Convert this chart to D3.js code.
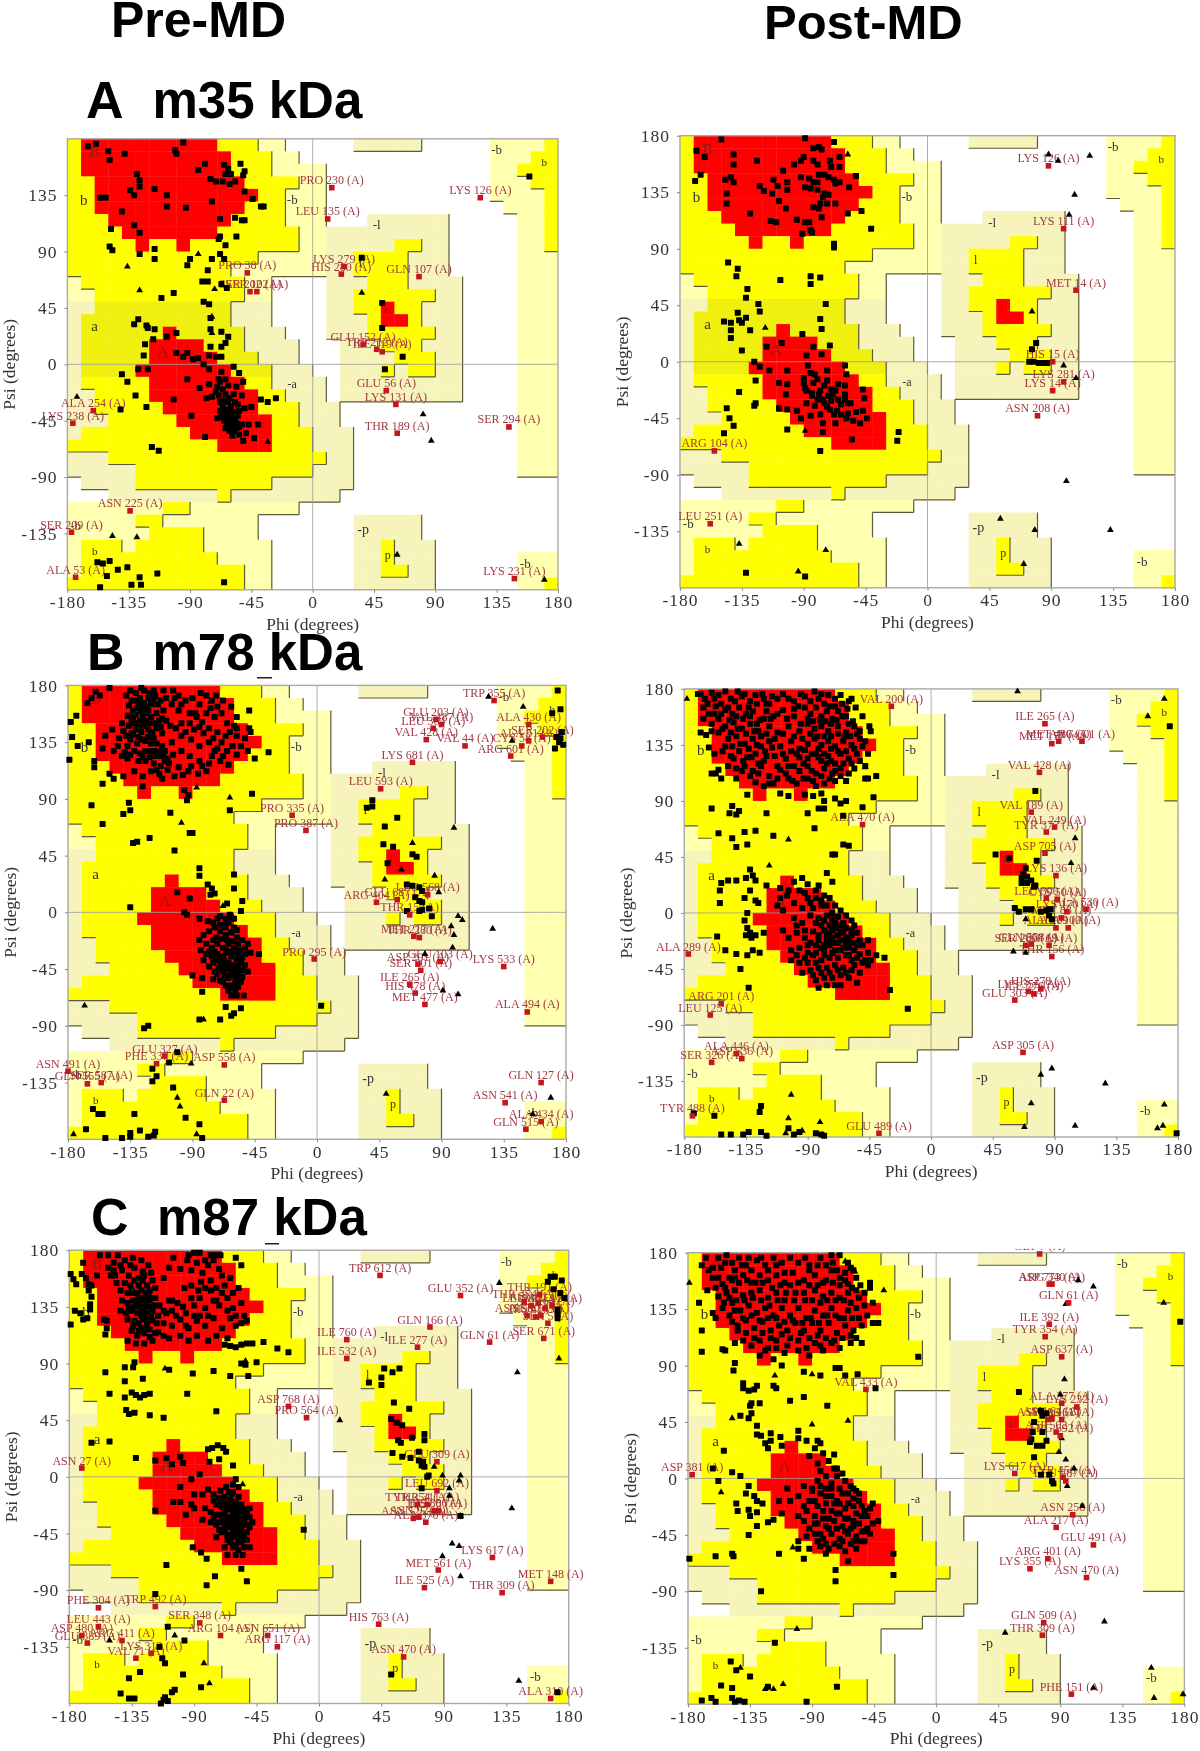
<!DOCTYPE html>
<html><head><meta charset="utf-8">
<script src="https://cdn.jsdelivr.net/npm/d3@7/dist/d3.min.js"></script>
<style>html,body{margin:0;padding:0;background:#fff}svg{display:block;filter:blur(0.45px)}</style>
</head><body><svg id="c" width="1200" height="1751"></svg>
<script>
const phiTicks=[-180,-135,-90,-45,0,45,90,135,180];
const psiTicks=[-135,-90,-45,0,45,90,135,180];
const columnTitles=["Pre-MD","Post-MD"];
const rowLetters=["A","B","C"];
const rowNames=["m35 kDa","m78 kDa","m87 kDa"];

/* Ramachandran regions: one entry per 10-degree psi band from +180 down, spans are phi bin ranges */
const generousBins=[[[0,16],[21,26],[31,36]],[[0,17],[31,36]],[[0,19],[31,36]],[[0,19],[31,36]],[[0,19],[31,36]],[[0,19],[32,36]],[[0,19],[22,28],[33,36]],[[0,28],[33,36]],[[0,28],[33,36]],[[0,28],[33,36]],[[0,28],[33,36]],[[0,15],[19,29],[33,36]],[[0,15],[19,29],[33,36]],[[0,15],[19,29],[33,36]],[[0,15],[19,29],[33,36]],[[0,16],[19,29],[33,36]],[[0,17],[20,29],[33,36]],[[0,17],[20,29],[33,36]],[[0,18],[20,29],[33,36]],[[0,19],[20,29],[33,36]],[[0,19],[20,29],[33,36]],[[0,20],[33,36]],[[0,20],[33,36]],[[0,21],[33,36]],[[0,21],[33,36]],[[0,21],[33,36]],[[0,21],[33,36]],[[1,21]],[[3,20]],[[0,17]],[[0,14],[21,26]],[[0,14],[21,26]],[[0,15],[21,27]],[[0,15],[21,27],[33,36]],[[0,15],[21,27],[33,36]],[[0,15],[21,27],[33,36]]];
const allowedBins=[[[0,14],[35,36]],[[0,15],[34,36]],[[0,15],[33,36]],[[0,17],[34,36]],[[0,16],[35,36]],[[0,16],[35,36]],[[0,16],[35,36]],[[0,17],[35,36]],[[0,17],[24,26],[35,36]],[[0,14],[21,25]],[[0,12],[21,25]],[[1,13],[22,25]],[[2,13],[21,27]],[[2,12],[21,26]],[[1,12],[22,26]],[[1,13],[22,27]],[[1,13],[23,26]],[[1,14],[24,27]],[[1,15],[23,24],[25,27]],[[1,15]],[[2,16]],[[2,17]],[[3,17]],[[1,18]],[[0,18]],[[3,19]],[[5,18]],[[5,15]],[[11,12]],[[7,9]],[[5,7]],[[6,10]],[[1,4],[5,10],[23,24]],[[1,11],[23,24]],[[1,13],[23,25]],[[0,13],[35,36]]];
const coreBins=[[[1,11]],[[1,12]],[[1,12]],[[2,13]],[[2,14]],[[2,13]],[[3,12]],[[4,11]],[[5,6],[8,9]],[],[],[],[],[[23,24]],[[23,25]],[[7,8]],[[6,10]],[[6,11]],[[5,12]],[[6,13]],[[6,14]],[[7,14]],[[8,15]],[[9,15]],[[11,15]],[],[],[],[],[],[],[],[],[],[],[]];
const regionLetters=[["B",-160,168,15],["b",-168,130,15],["A",-110,8,17],["a",-160,29,15],["-b",-15,130,13],["-a",-15,-17,12],["-l",47,110,13],["l",35,80,12],["L",55,42,11],["-b",135,170,13],["b",170,160,11],["-p",37,-133,14],["p",55,-153,12],["-b",156,-160,13],["-b",-174,-130,13],["b",-160,-150,11]];

/* residue points: flat phi,psi pairs */
const squaresAPre=[-165,174,-159,176,-150,170,-149,163,-138,168,-95,177,-101,171,-100,168,-79,160,-84,155,-65,159,-62,156,-64,152,-60,152,-53,160,-50,154,-51,151,-75,148,-71,146,-66,146,-61,144,-57,146,-129,152,-127,147,-134,139,-127,142,-116,140,-131,135,-107,135,-156,133,-152,133,-140,122,-107,126,-93,125,-68,116,-52,115,-57,117,-50,115,-44,132,-38,126,-36,126,-50,138,-74,130,-148,108,-131,111,-127,105,-69,100,-68,102,-64,95,-56,102,-149,94,-147,91,-127,88,-116,92,-116,84,-90,84,-92,79,-74,84,-68,88,-65,84,-77,75,-81,66,-77,66,-67,64,-63,61,-102,57,-111,53,-80,50,-76,48,-75,37,-131,32,-128,36,-122,31,-121,29,-116,28,-117,20,-123,16,-124,7,-75,28,-67,26,-62,22,-64,17,-67,14,-75,14,-107,22,-100,25,-92,9,-88,4,-84,5,-76,7,-71,6,-67,6,-100,9,-95,6,-58,-2,-54,-7,-51,-14,-67,-6,-69,-12,-76,-4,-80,0,-140,-8,-136,-14,-130,-25,-141,-36,-122,-34,-128,-4,-121,-4,-102,-28,-92,-12,-83,-19,-78,-27,-71,-22,-64,-24,-58,-24,-52,-25,-68,-30,-62,-30,-55,-32,-50,-35,-45,-34,-27,-27,-33,-30,-38,-28,-68,-37,-64,-40,-61,-43,-57,-45,-52,-48,-65,-45,-61,-48,-58,-53,-54,-56,-51,-61,-43,-59,-40,-48,-79,-58,-89,-41,-118,-66,-113,-69,-70,-18,-66,-20,-62,-17,-60,-34,-66,-34,-63,-36,-58,-38,-55,-41,-60,-45,-56,-51,-70,-43,-74,-26,-76,-16,-68,-14,-64,-12,-56,-18,-69,-25,-65,-29,-61,-27,-66,-39,-62,-38,-59,-41,-63,-43,-67,-42,-63,-47,-59,-49,-56,-47,-64,-51,-61,-53,-59,-57,-54,-50,-49,-55,-47,-48,-57,-30,-54,-37,53,-4,66,6,-158,-158,-154,-159,-149,-157,-143,-164,-136,-162,-151,-169,-114,-167,-133,-176,-126,-176,-127,-170,-156,-178,-65,-174,159,150,36,85,51,49,51,29];
const trianglesAPre=[-136,78,-127,59,-84,88,-72,60,-74,38,-74,25,36,57,-173,-26,81,-40,87,-61,-147,-137,-129,-138,62,-152,170,-172,-33,-62];
const squaresAPost=[-169,144,-165,149,-168,168,-162,163,-150,177,-141,165,-141,157,-124,160,-147,145,-143,147,-141,143,-146,134,-146,126,-129,118,-122,140,-119,136,-113,134,-112,145,-109,140,-102,143,-102,137,-108,128,-103,122,-114,112,-110,111,-95,113,-89,111,-86,111,-91,102,-85,105,-84,103,-89,178,-68,175,-83,170,-79,171,-77,169,-90,163,-92,160,-97,157,-105,152,-83,160,-80,157,-71,160,-64,163,-70,155,-64,155,-92,147,-86,146,-83,143,-79,149,-75,149,-72,147,-68,145,-64,143,-67,142,-89,139,-85,138,-80,143,-80,137,-75,134,-72,133,-76,131,-78,126,-83,123,-79,122,-73,126,-67,126,-57,139,-52,148,-58,118,-48,120,-41,106,-77,115,-68,94,-68,91,-145,79,-138,74,-139,68,-107,65,-85,68,-85,62,-78,67,-131,58,-132,51,-123,46,-122,40,-74,46,-138,39,-132,35,-148,32,-143,31,-143,25,-143,19,-137,33,-135,31,-129,25,-78,34,-77,26,-91,22,-71,13,-117,12,-106,15,-135,9,-88,5,-83,12,-77,6,-126,0,-125,-15,-137,-24,-146,-37,-144,-45,-141,-51,-148,-57,-125,-33,-126,-35,-102,-54,-78,-71,-21,-56,-22,-63,-55,-62,-76,-56,-122,-4,-115,-7,-102,-7,-87,-3,-82,-10,-73,-7,-60,-3,-59,-10,-108,-17,-102,-18,-103,-26,-90,-13,-89,-21,-84,-25,-80,-14,-75,-19,-70,-22,-65,-18,-60,-19,-47,-22,-46,-29,-47,-39,-88,-33,-82,-35,-76,-30,-70,-31,-63,-34,-56,-33,-108,-37,-102,-38,-95,-39,-92,-45,-85,-43,-78,-42,-68,-42,-63,-42,-67,-49,-59,-45,-54,-47,-49,-49,-44,-45,-76,-49,-90,-17,-88,-23,-69,-26,-79,-26,-60,-26,-58,-33,-66,-39,-85,-9,-83,-17,-78,-23,-73,-15,-72,-27,-67,-23,-65,-30,-60,-30,-73,-36,-80,-30,-75,-33,-71,-38,-58,-41,-52,-40,-84,-27,-132,-168,-89,-171,79,15,76,10,77,0,74,0,85,-1,87,-1,81,-1];
const trianglesAPost=[-58,165,-118,27,-89,-55,-137,-145,-74,-150,-94,-167,88,165,95,160,118,164,107,133,103,117,76,40,99,-3,108,-13,101,-95,53,-125,78,-134,133,-134,70,-161];
const squaresBPre=[-166,166,-163,170,-157,172,-160,175,-150,178,-135,176,-127,178,-125,176,-111,176,-104,176,-100,172,-128,170,-125,166,-122,170,-130,162,-122,160,-119,165,-116,158,-133,155,-128,152,-124,152,-121,150,-136,148,-140,144,-131,145,-127,143,-122,145,-117,150,-111,160,-105,165,-100,160,-95,168,-90,170,-85,165,-80,172,-76,168,-72,163,-88,158,-80,158,-74,155,-69,158,-65,150,-60,148,-92,150,-85,147,-78,146,-72,143,-66,140,-58,140,-52,138,-48,143,-98,150,-106,148,-112,142,-118,138,-124,136,-130,134,-137,132,-143,138,-148,145,-153,140,-155,130,-147,128,-141,124,-135,125,-128,126,-120,128,-112,132,-105,135,-98,140,-91,137,-85,132,-78,135,-72,130,-65,128,-58,125,-50,128,-124,120,-118,118,-115,124,-110,120,-104,125,-98,128,-92,124,-85,120,-78,118,-70,120,-64,117,-120,112,-114,110,-108,113,-100,115,-93,112,-86,110,-80,112,-126,108,-132,112,-140,108,-147,106,-150,110,-155,102,-126,100,-96,97,-93,93,-130,168,-126,162,-124,158,-120,155,-118,170,-115,165,-132,150,-129,147,-125,148,-134,142,-120,142,-116,134,-120,134,-124,128,-118,124,-113,116,-110,128,-108,122,-178,151,-174,156,-177,139,-173,132,-179,121,-165,135,-161,120,-161,115,-49,160,-49,146,-45,122,-35,127,-47,94,-163,85,-155,70,-136,87,-135,81,-140,78,-106,79,-63,81,-94,89,-133,55,-130,56,-121,59,-103,49,-92,63,-90,63,-85,35,-85,29,-60,30,-60,19,-79,22,-76,19,-74,15,-77,14,-101,16,-92,11,-135,4,-65,7,-54,9,-55,1,-96,0,-94,-2,-85,-5,-63,-2,-60,-5,-75,-8,-72,-5,-68,-10,-64,-8,-60,-12,-70,-15,-66,-18,-62,-16,-58,-20,-54,-22,-50,-25,-73,-20,-78,-15,-82,-18,-85,-22,-80,-25,-76,-28,-72,-25,-68,-28,-64,-25,-60,-28,-56,-30,-52,-33,-48,-32,-42,-33,-84,-30,-80,-33,-76,-35,-72,-33,-68,-35,-65,-32,-62,-35,-58,-37,-55,-40,-52,-42,-82,-38,-75,-40,-70,-40,-67,-38,-64,-40,-61,-42,-58,-44,-65,-45,-62,-47,-60,-50,-57,-48,-54,-46,-68,-46,-71,-44,-74,-47,-78,-43,-90,-50,-83,-52,-75,-53,-70,-54,-64,-52,-59,-55,-55,-55,-66,-58,-60,-60,-62,-66,-58,-66,-53,-66,-83,-63,-66,-75,-55,-76,-60,-80,-62,-82,-70,-85,-85,-85,3,-74,-125,-92,-122,-90,-119,-124,-116,-130,-119,-134,-107,-119,-101,-111,-104,-139,-162,-156,-158,-160,-155,-160,-132,-160,-95,-163,-85,-168,-167,-172,-153,-179,-141,-179,-135,-175,-135,-178,-128,-173,-122,-178,-117,-174,-118,-177,-83,-179,40,89,36,83,40,84,58,75,49,68,48,54,55,52,51,39,69,46,72,44,65,22,69,21,74,20,76,17,71,12,74,9,76,8,65,1,74,1,76,2,81,3,83,-3,174,176,176,161,170,158,177,143,172,130,175,135,178,133,173,139,176,138];
const denseBPre=[-138,172,-134,168,-131,174,-129,165,-127,160,-133,160,-136,164,-121,174,-118,176,-117,172,-113,168,-109,170,-137,156,-134,152,-131,157,-126,156,-123,163,-120,167,-114,152,-112,154,-109,152,-141,150,-138,140,-135,137,-133,141,-129,139,-126,137,-122,139,-119,143,-116,146,-113,147,-144,132,-139,127,-137,122,-132,128,-129,120,-126,123,-121,123,-117,128,-113,127,-111,124,-107,118,-116,113,-112,106,-103,108,-97,109,-91,116,-83,116,-76,124,-74,128,-68,124,-61,132,-82,142,-75,138,-69,135,-63,143,-58,146,-55,132,-89,145,-95,143,-102,146,-87,155,-83,151,-77,162,-92,158,-98,165,-103,170,-84,174,-73,172,-68,168,-62,163,-58,155,-79,-7,-70,-3,-66,-5,-62,-4,-74,-12,-70,-10,-66,-12,-58,-14,-75,-22,-69,-21,-65,-22,-61,-23,-57,-25,-52,-28,-78,-31,-74,-31,-70,-36,-66,-30,-63,-31,-60,-33,-57,-34,-54,-36,-73,-38,-69,-42,-66,-42,-63,-44,-60,-47,-57,-42,-72,-49,-67,-50,-63,-50,-58,-51,-54,-51,-50,-47,-68,-55,-62,-58,-57,-59,-64,-62,-59,-63];
const trianglesBPre=[124,171,149,163,141,136,-77,167,-87,99,-63,91,-98,71,-68,5,99,67,69,55,85,29,88,16,61,34,49,26,102,-3,105,-6,97,-11,99,-18,127,-13,98,-28,78,-33,91,-62,102,-65,-168,-74,-82,-85,-91,-120,-101,-147,-99,-154,50,-144,169,-147,156,-160,-176,-176,-87,-176];
const squaresBPost=[-170,176,-165,172,-160,177,-155,175,-150,178,-146,172,-141,178,-136,176,-132,170,-128,175,-122,172,-118,168,-112,172,-100,170,-95,176,-85,178,-80,176,-75,175,-70,172,-65,168,-60,170,-55,165,-166,165,-162,160,-157,166,-150,163,-145,160,-140,165,-135,160,-130,162,-125,155,-120,162,-115,158,-108,163,-100,158,-92,165,-88,160,-84,165,-80,158,-76,162,-72,156,-68,162,-62,158,-166,156,-160,152,-155,156,-150,150,-144,153,-138,148,-132,152,-126,146,-118,150,-112,145,-104,150,-96,146,-90,152,-85,148,-80,150,-75,146,-68,150,-62,145,-56,150,-50,158,-45,150,-44,146,-168,145,-164,143,-162,133,-158,128,-155,145,-148,140,-142,142,-136,136,-130,140,-124,134,-118,138,-110,134,-102,138,-96,132,-90,136,-85,140,-80,135,-75,138,-70,134,-64,138,-58,135,-52,140,-48,138,-152,130,-146,126,-140,130,-134,125,-128,128,-122,122,-114,126,-106,124,-98,128,-90,124,-84,128,-80,122,-75,126,-70,120,-66,128,-60,124,-54,128,-148,118,-142,116,-136,118,-130,114,-124,118,-118,110,-110,115,-104,118,-96,114,-90,118,-84,112,-78,116,-72,112,-66,116,-60,112,-157,112,-160,112,-155,115,-153,108,-142,108,-128,105,-122,102,-115,104,-104,108,-98,104,-90,108,-84,102,-78,104,-70,106,-62,106,-48,108,-46,108,-40,110,-134,95,-110,96,-104,94,-92,95,-86,94,-80,96,-78,90,-70,92,-62,90,-66,88,-42,93,-50,85,-160,84,-145,86,-147,80,-142,79,-140,82,-120,80,-90,80,-82,84,-64,78,-85,68,-78,84,-155,64,-145,60,-136,65,-142,53,-134,55,-115,62,-128,66,-72,47,-70,47,-60,54,-64,55,-132,35,-135,28,-130,30,-148,26,-153,24,-154,18,-142,26,-128,26,-120,22,-154,8,-132,18,-136,12,-128,10,-126,8,-100,25,-90,23,-94,28,-82,22,-76,32,-72,25,-134,0,-136,-6,-134,-12,-132,-16,-135,-18,-131,-20,-128,-18,-122,-16,-156,-19,-150,-30,-142,-33,-134,-34,-130,-30,-125,-32,-139,-45,-133,-60,-110,20,-105,14,-100,8,-92,16,-84,18,-88,8,-80,10,-74,12,-70,6,-108,2,-112,6,-100,-4,-94,-8,-88,-2,-82,-4,-76,-2,-72,-5,-68,-3,-64,-8,-56,-10,-108,-14,-104,-20,-98,-16,-92,-20,-86,-15,-80,-10,-82,-18,-78,-14,-74,-16,-70,-12,-66,-15,-76,-22,-72,-20,-68,-24,-62,-20,-58,-18,-52,-22,-46,-22,-102,-30,-96,-28,-90,-26,-84,-26,-78,-30,-74,-26,-70,-30,-64,-28,-60,-28,-56,-30,-52,-33,-46,-32,-40,-34,-34,-36,-102,-38,-96,-40,-92,-36,-86,-34,-80,-38,-74,-36,-68,-36,-62,-34,-58,-38,-50,-40,-46,-42,-94,-48,-88,-46,-82,-44,-76,-44,-70,-42,-64,-44,-58,-46,-52,-48,-84,-54,-78,-52,-72,-52,-66,-50,-60,-52,-54,-56,-82,-60,-66,-58,-30,-62,-17,-77,-173,-161,-158,-163,-153,-178,-146,-178,-137,-178,-133,-176,-124,-176,-125,-160,-124,-155,-120,-179,-104,-173,-100,-178,-96,-176,-84,-177,-80,-178,-78,-179,47,47,57,44,77,42,69,36,67,31,70,29,66,28,73,26,76,22,64,1,69,3,73,3,84,2,87,3,86,-2,88,-5,76,98,174,150,179,-177];
const denseBPost=[-168,176,-163,168,-158,172,-153,168,-148,165,-143,170,-138,174,-133,165,-127,168,-123,176,-120,168,-116,174,-108,176,-104,172,-97,166,-92,174,-88,170,-82,172,-78,168,-74,166,-70,166,-66,175,-61,164,-58,172,-158,160,-153,160,-147,155,-142,158,-137,156,-132,158,-127,152,-122,156,-117,156,-112,160,-105,156,-100,164,-95,152,-90,156,-86,154,-81,155,-77,154,-73,152,-69,155,-65,158,-60,152,-57,154,-52,146,-160,146,-152,148,-146,145,-141,148,-135,144,-129,146,-124,142,-120,144,-114,140,-108,144,-100,142,-94,140,-88,144,-83,142,-78,142,-73,142,-68,144,-63,142,-59,142,-54,144,-50,134,-46,128,-150,134,-145,134,-139,136,-133,132,-127,135,-121,130,-116,133,-108,128,-102,130,-96,125,-92,131,-87,128,-82,132,-78,128,-73,132,-68,130,-62,130,-56,132,-52,122,-48,118,-144,124,-137,122,-131,125,-126,120,-120,126,-112,118,-106,112,-100,118,-93,120,-87,114,-82,125,-76,120,-73,122,-70,114,-64,120,-58,120,-56,116,-138,114,-132,110,-126,112,-118,104,-112,108,-101,106,-93,108,-86,106,-80,110,-74,108,-66,110,-110,12,-104,18,-96,18,-90,12,-84,12,-78,14,-94,4,-86,4,-80,6,-76,6,-72,0,-66,2,-62,-2,-58,-6,-98,-10,-92,-14,-84,-8,-78,-6,-74,-10,-70,-8,-66,-10,-62,-12,-58,-14,-54,-16,-88,-24,-82,-22,-80,-28,-76,-18,-72,-14,-68,-18,-64,-16,-60,-22,-56,-24,-50,-26,-98,-34,-90,-32,-84,-32,-78,-26,-74,-22,-70,-24,-66,-22,-62,-24,-58,-24,-54,-26,-48,-38,-90,-40,-84,-40,-78,-34,-72,-32,-66,-30,-60,-34,-54,-36,-44,-38,-86,-50,-80,-48,-74,-48,-68,-46,-62,-48,-56,-42,-76,-58,-70,-58,66,24,70,24,75,21,61,4,80,1];
const trianglesBPost=[-178,172,63,178,170,172,158,158,-48,117,-104,59,-118,38,105,60,102,40,85,3,73,2,62,3,69,-5,60,-31,69,-32,68,-172,165,-173,169,-171,170,-154,73,-153,105,-171,80,-130,88,-125,127,-137,-102,-146,-104,-165,-81,-168,-106,-177,-94,-175];
const squaresCPre=[-179,161,-177,157,-175,153,-171,161,-166,153,-166,148,-179,121,-176,132,-172,130,-170,125,-167,126,-165,137,-165,133,-164,143,-155,125,-153,124,-153,118,-154,113,-170,170,-168,158,-164,152,-160,160,-158,176,-152,176,-148,170,-145,176,-140,172,-134,174,-128,172,-152,166,-147,160,-142,164,-137,160,-133,166,-127,163,-123,168,-140,154,-136,152,-133,156,-130,152,-127,156,-124,152,-120,156,-138,146,-135,148,-131,146,-128,148,-125,146,-122,148,-118,150,-142,140,-138,138,-134,140,-131,138,-128,140,-125,138,-122,140,-118,136,-143,132,-139,130,-135,132,-131,130,-128,132,-124,130,-120,132,-116,128,-133,124,-130,122,-127,125,-124,122,-120,124,-135,116,-130,116,-126,114,-122,117,-118,114,-138,108,-132,106,-126,106,-120,108,-105,174,-95,172,-92,164,-88,170,-84,162,-80,168,-76,172,-72,165,-70,160,-85,155,-78,156,-74,150,-68,152,-64,158,-108,140,-112,132,-106,132,-102,138,-96,130,-90,136,-86,142,-82,134,-76,140,-72,136,-66,142,-62,134,-56,138,-112,122,-106,120,-100,125,-94,118,-88,124,-82,120,-76,126,-70,118,-64,126,-60,120,-54,128,-52,124,-108,110,-100,112,-94,108,-88,112,-80,108,-74,112,-66,110,-68,105,-64,104,-60,103,-56,105,-71,176,-60,174,-56,168,-52,106,-48,106,-40,107,-30,102,-22,99,-56,90,-53,89,-45,91,-154,83,-140,76,-151,66,-140,63,-135,67,-132,65,-129,63,-126,65,-122,66,-95,66,-140,87,-133,91,-134,87,-127,78,-108,85,-91,82,-76,84,-64,80,-51,80,-139,53,-137,50,-133,51,-122,49,-112,47,-74,52,-164,27,-151,28,-132,15,-80,22,-77,23,-73,25,-69,23,-67,20,-62,9,-118,13,-110,15,-98,11,-118,-27,-75,-79,-110,-70,-81,-86,-56,-73,-52,-83,-81,-65,-91,-56,-85,-60,-62,-6,-60,-2,-58,-8,-65,-12,-62,-12,-80,-10,-84,-14,-76,-14,-72,-17,-68,-16,-64,-18,-60,-20,-56,-22,-74,-22,-70,-24,-66,-25,-62,-24,-58,-27,-54,-27,-50,-25,-78,-28,-74,-30,-70,-30,-66,-32,-62,-30,-58,-32,-54,-34,-50,-32,-72,-36,-68,-38,-64,-36,-60,-38,-56,-40,-52,-38,-48,-36,-70,-44,-66,-46,-62,-44,-58,-46,-54,-44,-64,-52,-60,-54,-56,-52,-52,-50,-50,-56,-11,-42,-92,-22,-100,-20,-90,-14,47,86,53,83,58,86,45,79,36,75,45,73,54,59,65,54,52,46,56,43,60,41,76,34,76,29,57,29,59,27,67,31,53,19,60,16,66,15,72,20,72,13,75,12,74,9,76,8,79,1,78,0,74,-9,102,-31,167,159,170,159,175,156,169,149,174,146,177,142,172,133,172,126,172,129,165,155,172,-171,52,-157,-109,-119,-115,-135,-97,-130,-113,-144,-111,-148,-129,-155,-137,-160,-98,-157,-85,-167,-104,-169,-106,-171,-143,-172,-137,-176,-133,-176,-114,-180,-111,-175,-109,-178,-112,-177,-118,-93];
const denseCPre=[-148,164,-143,168,-136,168,-130,158,-126,160,-121,162,-134,146,-130,142,-126,142,-123,144,-120,142,-137,134,-133,135,-129,135,-126,134,-122,135,-118,142,-115,136,-128,128,-125,127,-121,127,-117,122,-131,112,-128,118,-125,118,-122,111,-134,120,-138,125,-143,148,-146,154,-150,160,-116,115,-112,112,-110,130,-106,140,-103,128,-98,135,-92,142,-96,120,-90,128,-86,128,-80,128,-78,148,-74,140,-70,146,-66,132,-60,128,-56,122,-62,146,-58,150,-94,176,-90,178,-86,178,-82,172,-78,176,-74,176,-82,150,-87,148,-92,152,-97,150,-100,165,-108,166,-112,158,-71,-11,-67,-8,-63,-14,-58,-16,-76,-19,-72,-22,-68,-21,-64,-22,-60,-24,-56,-25,-52,-26,-76,-33,-72,-30,-68,-28,-64,-26,-60,-28,-56,-30,-52,-30,-74,-38,-70,-35,-66,-36,-62,-34,-58,-36,-54,-38,-50,-40,-72,-42,-68,-42,-64,-40,-60,-42,-56,-44,-52,-44,-66,-50,-62,-48,-58,-50,-54,-48,-62,-56,-58,-58,-54,-56,-68,-56,-74,-48,-66,-62,-60,-62,-55,-62,-82,-25,-78,-36,-84,-34,-90,-25,-96,-30,-105,-20,-100,-8,-92,-2,-106,10,-86,2,-79,12,-72,14,-100,16];
const trianglesCPre=[130,154,143,83,173,94,-56,105,-53,92,-111,86,-55,-6,15,45,83,8,89,1,102,1,101,-3,94,-9,94,-15,102,-31,139,-25,96,-53,101,-55,89,-63,102,-79,-104,-126,-151,-130,-83,-148,-79,-164,144,-162];
const squaresCPost=[-170,170,-165,166,-162,160,-158,176,-152,178,-148,172,-143,176,-138,170,-130,174,-124,170,-118,176,-112,172,-100,172,-92,170,-84,176,-76,178,-70,178,-64,172,-160,152,-155,155,-150,160,-146,166,-140,162,-134,156,-128,162,-122,158,-116,162,-110,156,-104,164,-96,158,-88,162,-82,156,-76,166,-70,160,-64,155,-58,160,-166,150,-158,145,-152,148,-146,150,-140,146,-134,148,-128,150,-122,144,-116,148,-110,142,-102,148,-95,142,-88,150,-82,145,-76,148,-70,144,-64,148,-58,150,-48,152,-48,156,-172,140,-160,128,-162,132,-155,136,-148,140,-142,134,-136,138,-130,132,-124,136,-118,130,-112,136,-106,130,-100,136,-94,128,-88,134,-82,130,-76,136,-70,128,-64,134,-58,136,-52,138,-46,140,-170,118,-148,125,-144,118,-138,126,-132,120,-126,125,-120,118,-114,122,-108,118,-102,124,-96,118,-90,124,-84,118,-78,124,-72,116,-66,122,-60,118,-54,122,-46,124,-42,124,-170,101,-155,103,-153,102,-146,108,-140,110,-134,106,-128,110,-122,104,-116,110,-108,106,-100,110,-94,104,-88,108,-82,102,-76,108,-70,104,-62,108,-54,108,-128,98,-118,95,-112,90,-96,85,-84,82,-73,88,-70,88,-66,82,-57,83,-44,72,-146,92,-147,86,-140,76,-140,72,-136,70,-132,71,-130,74,-118,74,-116,72,-106,62,-96,65,-79,58,-134,60,-135,58,-128,60,-142,50,-134,52,-136,48,-130,42,-130,35,-127,34,-124,28,-120,30,-120,36,-113,33,-112,26,-122,24,-100,38,-100,32,-94,30,-86,30,-84,28,-74,19,-88,24,-82,20,-154,22,-162,8,-158,-2,-148,5,-142,2,-136,-6,-138,-12,-132,-14,-130,-18,-126,-20,-136,-25,-130,-27,-135,-30,-145,-20,-144,-26,-122,-35,-118,-33,-130,-38,-136,-45,-112,-28,-106,-18,-114,-18,-108,-8,-100,-14,-96,-22,-90,-10,-86,-2,-80,2,-76,-4,-72,8,-68,4,-62,-6,-56,-12,-100,-30,-94,-26,-88,-30,-84,-12,-80,-20,-76,-14,-72,-18,-68,-12,-64,-20,-60,-16,-54,-22,-46,-20,-88,-18,-82,-26,-76,-26,-70,-28,-64,-32,-58,-28,-50,-30,-42,-34,-92,-40,-86,-36,-80,-38,-74,-34,-68,-38,-62,-40,-56,-36,-50,-40,-100,-50,-94,-46,-88,-44,-82,-48,-76,-44,-70,-48,-64,-44,-58,-46,-52,-42,-100,-56,-92,-56,-84,-54,-78,-56,-70,-54,-62,-52,-56,-50,-114,-60,-96,-64,-80,-60,-64,-66,-31,-60,-73,-73,-73,-82,-31,-77,-160,-62,-179,-64,-148,-60,-147,-62,-127,-90,-117,-131,-149,-146,-145,-153,-135,-158,-156,-165,-170,-177,-163,-175,-160,-178,-148,-167,-148,-175,-146,-178,-143,-177,-139,-178,-122,-166,-72,-166,-94,-178,60,69,76,54,80,52,77,50,71,45,70,37,77,37,69,31,68,29,73,26,77,26,80,30,71,17,76,3,82,3,85,-4,84,-2,177,125,-13,97];
const denseCPost=[-167,176,-162,168,-156,168,-153,172,-146,160,-141,170,-136,176,-134,166,-127,176,-122,166,-116,170,-110,164,-106,176,-95,176,-92,166,-86,170,-80,170,-75,172,-72,166,-66,164,-62,168,-60,166,-158,160,-153,152,-148,158,-143,156,-137,158,-131,156,-126,156,-119,152,-113,154,-106,154,-100,156,-92,154,-86,154,-80,158,-75,156,-70,154,-66,158,-61,152,-55,154,-154,140,-150,144,-145,142,-139,142,-133,144,-127,142,-121,138,-115,142,-109,148,-103,142,-96,148,-90,142,-84,140,-79,142,-73,142,-67,142,-62,140,-56,144,-52,148,-150,130,-146,134,-140,128,-134,130,-128,126,-122,128,-116,128,-110,125,-104,126,-97,124,-91,128,-85,124,-79,130,-73,130,-67,128,-61,128,-56,128,-50,130,-144,122,-138,116,-132,112,-126,116,-120,112,-112,115,-106,112,-98,116,-92,112,-86,114,-80,112,-74,110,-68,112,-62,114,-58,112,-124,102,-116,104,-110,100,-100,102,-92,98,-84,106,-92,18,-86,12,-84,6,-78,14,-74,8,-72,2,-66,-2,-60,-8,-96,-6,-90,-8,-84,-6,-80,-8,-76,-8,-70,-8,-64,-12,-58,-10,-92,-18,-86,-22,-80,-14,-74,-20,-70,-20,-66,-24,-60,-22,-56,-18,-52,-26,-48,-24,-96,-34,-88,-36,-82,-32,-78,-32,-72,-28,-66,-32,-60,-34,-54,-30,-46,-36,-84,-44,-78,-40,-72,-40,-66,-42,-60,-38,-54,-42,-48,-44,-86,-50,-80,-52,-74,-52,-68,-50,-60,-50,-52,-50,-66,-58,-58,-56];
const trianglesCPost=[-179,156,-38,150,-66,173,-59,165,-117,82,-90,83,-148,48,-90,43,-64,46,-156,-11,-104,-55,93,79,90,67,91,32,89,21,94,15,100,8,95,-6,106,-22,122,-114,50,-123,-101,-120,-111,-164,-118,-168,-124,-168,-142,-151,103,158,114,153,94,139,165,140,114,-167,156,-151,158,-175,179,-172];

/* outlier residues: name, phi, psi */
const flaggedAPre=[["PRO 230 (A)",14,141],["LEU 135 (A)",11,116],["LYS 126 (A)",123,133],["LYS 279 (A)",23,78],["HIS 280 (A)",21,72],["PRO 38 (A)",-48,73],["GLN 107 (A)",78,70],["SER 202 (A)",-46,58],["SER 102 (A)",-41,58],["GLU 152 (A)",37,16],["TRP 212 (A)",47,12],["ILE 119 (A)",51,10],["GLU 56 (A)",54,-21],["LYS 131 (A)",61,-32],["THR 189 (A)",62,-55],["SER 294 (A)",144,-50],["ALA 254 (A)",-161,-37],["LYS 238 (A)",-176,-47],["ASN 225 (A)",-134,-117],["SER 209 (A)",-177,-134],["ALA 53 (A)",-174,-170],["LYS 231 (A)",148,-171]];
const flaggedAPost=[["LYS 126 (A)",88,156],["LYS 111 (A)",99,106],["MET 14 (A)",108,57],["HIS 15 (A)",91,0],["LYS 281 (A)",99,-16],["LYS 14 (A)",91,-23],["ASN 208 (A)",80,-43],["ARG 104 (A)",-155,-71],["LEU 251 (A)",-158,-129]];
const flaggedBPre=[["TRP 355 (A)",128,168],["GLU 203 (A)",86,153],["VAL 487 (A)",90,149],["LEU 364 (A)",84,146],["VAL 428 (A)",79,137],["ALA 430 (A)",153,149],["SER 202 (A)",163,139],["CYS 58 (A)",148,132],["ALA 51 (A)",153,136],["ARG 601 (A)",140,124],["VAL 44 (A)",107,132],["LYS 681 (A)",69,119],["LEU 593 (A)",46,98],["PRO 335 (A)",-18,77],["PRO 387 (A)",-8,65],["ARG 404 (A)",43,8],["GLU 687 (A)",58,10],["LEU 568 (A)",80,14],["THR 15 (A)",67,-2],["MET 217 (A)",70,-19],["THR 280 (A)",74,-20],["PRO 295 (A)",-2,-37],["ASP 201 (A)",73,-41],["SER 301 (A)",75,-46],["GLU 103 (A)",89,-39],["LYS 533 (A)",135,-43],["ILE 265 (A)",67,-57],["HIS 478 (A)",71,-64],["MET 477 (A)",78,-73],["ALA 494 (A)",152,-79],["GLU 327 (A)",-110,-114],["PHE 337 (A)",-116,-120],["ASN 491 (A)",-180,-126],["GLN 555 (A)",-166,-136],["SER 587 (A)",-156,-135],["ASP 558 (A)",-67,-121],["GLN 22 (A)",-67,-149],["GLN 127 (A)",162,-135],["ASN 541 (A)",136,-151],["ALA 434 (A)",162,-166],["GLN 515 (A)",151,-172]];
const flaggedBPost=[["VAL 200 (A)",-29,166],["ILE 265 (A)",83,152],["MET 177 (A)",88,136],["MET 480 (A)",93,138],["ARG 601 (A)",110,138],["VAL 428 (A)",79,113],["VAL 189 (A)",73,81],["VAL 249 (A)",90,69],["TYR 377 (A)",84,65],["ASP 705 (A)",83,48],["ALA 470 (A)",-50,71],["LYS 136 (A)",91,30],["LEU 300 (A)",84,12],["CYS 50 (A)",92,11],["ALA 530 (A)",113,3],["LYS 170 (A)",99,1],["MET 88 (A)",95,-4],["ALA 209 (A)",91,-12],["ALA 100 (A)",100,-12],["SER 280 (A)",69,-26],["GLN 558 (A)",73,-25],["ASP 69 (A)",86,-26],["THR 156 (A)",88,-35],["HIS 278 (A)",80,-61],["LYS 355 (A)",71,-63],["ILE 276 (A)",75,-65],["GLU 303 (A)",61,-70],["ASP 305 (A)",67,-112],["ALA 289 (A)",-177,-33],["ARG 201 (A)",-153,-73],["LEU 125 (A)",-161,-82],["ALA 446 (A)",-142,-113],["SER 326 (A)",-160,-120],["ASP 536 (A)",-138,-117],["TYR 488 (A)",-174,-163],["GLU 489 (A)",-38,-177]];
const flaggedCPre=[["TRP 612 (A)",44,160],["GLU 352 (A)",102,144],["THR 191 (A)",159,145],["THR 474 (A)",148,139],["LEU 88 (A)",153,136],["ASN 31 (A)",158,138],["ALA 64 (A)",163,134],["ARG 12 (A)",168,136],["SER 51 (A)",160,128],["ASN 530 (A)",150,128],["HIS 41 (A)",156,127],["SER 5 (A)",165,122],["GLN 166 (A)",80,119],["ILE 760 (A)",20,109],["ILE 277 (A)",71,103],["ILE 532 (A)",20,94],["GLN 61 (A)",123,107],["SER 671 (A)",162,110],["ASP 768 (A)",-22,56],["PRO 564 (A)",-9,47],["GLU 309 (A)",85,12],["ASN 27 (A)",-171,7],["LEU 692 (A)",85,-11],["TYR 354 (A)",71,-22],["THR 311 (A)",78,-22],["HIS 80 (A)",83,-27],["LEU 86 (A)",86,-27],["ASN 525 (A)",68,-33],["ASN 92 (A)",72,-32],["ALA 370 (A)",77,-36],["LYS 617 (A)",125,-64],["MET 561 (A)",86,-74],["ILE 525 (A)",76,-88],["THR 309 (A)",132,-92],["MET 148 (A)",167,-83],["HIS 763 (A)",43,-117],["ASN 470 (A)",61,-143],["PHE 304 (A)",-159,-104],["TRP 492 (A)",-118,-103],["SER 348 (A)",-86,-116],["LEU 443 (A)",-159,-119],["ASP 480 (A)",-171,-126],["GLU 389 (A)",-167,-132],["ARG 411 (A)",-142,-130],["ARG 104 (A)",-71,-126],["ASN 651 (A)",-37,-126],["ARG 117 (A)",-30,-135],["LYS 312 (A)",-121,-140],["VAL 71 (A)",-132,-144],["ALA 310 (A)",167,-176]];
const flaggedCPost=[["ASP 773 (A)",82,155],["ARG 340 (A)",84,155],["GLN 61 (A)",96,140],["ILE 392 (A)",82,123],["TYR 354 (A)",79,113],["ASP 637 (A)",91,97],["VAL 433 (A)",-51,71],["ALA 377 (A)",91,60],["LYS 232 (A)",102,57],["ASP 206 (A)",81,47],["ASN 64 (A)",84,48],["ALA 161 (A)",91,47],["ASP 502 (A)",87,37],["ARG 692 (A)",90,34],["ASP 381 (A)",-177,3],["LYS 617 (A)",57,4],["TYR 456 (A)",92,1],["LEU 287 (A)",94,-2],["ASN 258 (A)",99,-29],["ALA 217 (A)",87,-39],["GLU 491 (A)",114,-53],["ARG 401 (A)",81,-64],["LYS 355 (A)",68,-72],["ASN 470 (A)",109,-79],["GLN 509 (A)",78,-115],["THR 309 (A)",77,-125],["PHE 151 (A)",98,-172],["GLY 7 (A)",75,179]];

const panels=[
 {px:[67.4,558],py:[138.8,589.8],sq:squaresAPre,tr:trianglesAPre,fl:flaggedAPre,psi:psiTicks.slice(0,7),tint:true},
 {px:[680,1175],py:[135.7,587.8],sq:squaresAPost,tr:trianglesAPost,fl:flaggedAPost,psi:psiTicks,tint:true},
 {px:[68,566],py:[685.4,1139.3],sq:squaresBPre.concat(denseBPre),tr:trianglesBPre,fl:flaggedBPre,psi:psiTicks,tint:false},
 {px:[684.2,1178],py:[688.9,1137],sq:squaresBPost.concat(denseBPost),tr:trianglesBPost,fl:flaggedBPost,psi:psiTicks,tint:false},
 {px:[69.3,568.7],py:[1250.2,1703.5],sq:squaresCPre.concat(denseCPre),tr:trianglesCPre,fl:flaggedCPre,psi:psiTicks,tint:false},
 {px:[688,1184.4],py:[1252.7,1704.2],sq:squaresCPost.concat(denseCPost),tr:trianglesCPost,fl:flaggedCPost,psi:psiTicks,tint:false}
];
const serif="'Liberation Serif','DejaVu Serif',serif", sans="'Liberation Sans',Arial,sans-serif";
const svg=d3.select("#c");

function grid(bins){const g=[];bins.forEach((spans,r)=>{g[r]=new Array(36).fill(false);spans.forEach(([a,b])=>{for(let c=a;c<b;c++)g[r][c]=true;});});return g;}
const gG=grid(generousBins),gA=grid(allowedBins),gC=grid(coreBins);
const binCells=[];for(let r=0;r<36;r++)for(let c=0;c<36;c++)binCells.push({r,c});
function cellFill(d,tint){
  if(gC[d.r][d.c])return "#ff0000";
  if(gA[d.r][d.c])return (tint&&d.r>=13&&d.r<=18&&d.c<=15)?"#f0f00e":"#ffff00";
  if(gG[d.r][d.c]){
    if((d.c>=19&&d.c<=29)||(d.r>=13&&d.r<=28&&d.c<19))return "#f6f4bb";
    return "#ffffb0";
  }
  return "none";
}
const pairs=a=>d3.range(0,a.length,2).map(i=>[a[i],a[i+1]]);

panels.forEach((p,pi)=>{
  const x=d3.scaleLinear().domain([-180,180]).range(p.px);
  const y=d3.scaleLinear().domain([-180,180]).range([p.py[1],p.py[0]]);
  const g=svg.append("g");
  const phiOf=c=>-180+10*c, psiOf=r=>180-10*r;
  g.selectAll("rect.cell").data(binCells.filter(d=>cellFill(d,p.tint)!=="none")).join("rect").attr("class","cell")
    .attr("x",d=>x(phiOf(d.c))).attr("y",d=>y(psiOf(d.r)))
    .attr("width",x(10)-x(0)+0.4).attr("height",y(0)-y(10)+0.4)
    .attr("fill",d=>cellFill(d,p.tint));
  const inA=(r,c)=>r>=0&&r<36&&c>=0&&c<36&&(gA[r][c]||gC[r][c]);
  const inG=(r,c)=>inA(r,c)||(r>=0&&r<36&&c>=0&&c<36&&gG[r][c]);
  const edge=d3.path();
  binCells.forEach(({r,c})=>{
    [inA,inG].forEach(test=>{
      if(!test(r,c))return;
      if(c<35&&!test(r,c+1)){edge.moveTo(x(phiOf(c+1)),y(psiOf(r)));edge.lineTo(x(phiOf(c+1)),y(psiOf(r+1)));}
      if(r<35&&!test(r+1,c)){edge.moveTo(x(phiOf(c)),y(psiOf(r+1)));edge.lineTo(x(phiOf(c+1)),y(psiOf(r+1)));}
    });
  });
  g.append("path").attr("d",edge.toString()).attr("fill","none").attr("stroke","#5c5c3c").attr("stroke-width",1.2);
  g.append("line").attr("x1",x(0)).attr("x2",x(0)).attr("y1",y(180)).attr("y2",y(-180)).attr("stroke","#999").attr("stroke-width",.8);
  g.append("line").attr("x1",x(-180)).attr("x2",x(180)).attr("y1",y(0)).attr("y2",y(0)).attr("stroke","#999").attr("stroke-width",.8);
  g.append("rect").attr("x",x(-180)).attr("y",y(180)).attr("width",x(180)-x(-180)).attr("height",y(-180)-y(180)).attr("fill","none").attr("stroke","#a8a8a8").attr("stroke-width",1.4);

  g.selectAll("text.rl").data(regionLetters).join("text").attr("class","rl")
    .attr("x",d=>x(d[1])).attr("y",d=>y(d[2])).attr("text-anchor","middle").attr("dominant-baseline","middle")
    .attr("font-family",serif).attr("font-size",d=>d[3]).attr("fill",d=>(d[0]==="A"||d[0]==="B"||d[0]==="L")?"#8c1a10":"#333").text(d=>d[0]);

  const ax=g.append("g").attr("transform",`translate(0,${p.py[1]})`).call(d3.axisBottom(x).tickValues(phiTicks).tickFormat(String).tickSize(3).tickPadding(3));
  const ay=g.append("g").attr("transform",`translate(${p.px[0]},0)`).call(d3.axisLeft(y).tickValues(p.psi).tickFormat(String).tickSize(3).tickPadding(7));
  [ax,ay].forEach(a=>{a.select(".domain").remove();a.selectAll("line").attr("stroke","#888");
    a.selectAll("text").attr("font-family",serif).attr("font-size",17.5).attr("letter-spacing",1).attr("fill","#333");});
  g.append("text").attr("x",(p.px[0]+p.px[1])/2).attr("y",p.py[1]+40).attr("text-anchor","middle").attr("font-family",serif).attr("font-size",17.5).attr("fill","#333").text("Phi (degrees)");
  g.append("text").attr("transform",`translate(${p.px[0]-52},${(p.py[0]+p.py[1])/2}) rotate(-90)`).attr("text-anchor","middle").attr("font-family",serif).attr("font-size",17.5).attr("fill","#333").text("Psi (degrees)");

  const clip=svg.append("clipPath").attr("id","cl"+pi);
  clip.append("rect").attr("x",0).attr("y",p.py[0]-4).attr("width",1200).attr("height",p.py[1]-p.py[0]+30);
  g.append("g").attr("clip-path",`url(#cl${pi})`).selectAll("text.fl").data(p.fl).join("text").attr("class","fl")
    .attr("x",d=>x(d[1])).attr("y",d=>y(d[2])-3.5).attr("text-anchor","middle").attr("font-family",serif).attr("font-size",12).attr("fill","#a23a44").text(d=>d[0]);
  g.selectAll("rect.sq").data(pairs(p.sq)).join("rect").attr("class","sq")
    .attr("x",d=>x(d[0])-3).attr("y",d=>y(d[1])-3).attr("width",6).attr("height",6).attr("rx",.6).attr("fill","#000");
  g.selectAll("path.tr").data(pairs(p.tr)).join("path").attr("class","tr")
    .attr("transform",d=>`translate(${x(d[0])},${y(d[1])})`).attr("d",d3.symbol(d3.symbolTriangle,20)()).attr("fill","#000");
  g.selectAll("rect.fs").data(p.fl).join("rect").attr("class","fs")
    .attr("x",d=>x(d[1])-2.8).attr("y",d=>y(d[2])-2.8).attr("width",5.6).attr("height",5.6).attr("fill","#c4161c");
});

const big=(t,xp,yp,fs)=>svg.append("text").attr("x",xp).attr("y",yp).attr("font-family",sans).attr("font-weight",700).attr("font-size",fs).attr("fill","#000").text(t);
big(columnTitles[0],111,37,50);big(columnTitles[1],764,39,49);
[[86,152.5,118],[87,152.5,670],[91,157,1235]].forEach((a,i)=>{big(rowLetters[i],a[0],a[2],52);big(rowNames[i],a[1],a[2],51);});
svg.append("rect").attr("x",257).attr("y",677).attr("width",15).attr("height",1.5).attr("fill","#222");
svg.append("rect").attr("x",265).attr("y",1243).attr("width",14).attr("height",1.5).attr("fill","#222");
</script></body></html>
